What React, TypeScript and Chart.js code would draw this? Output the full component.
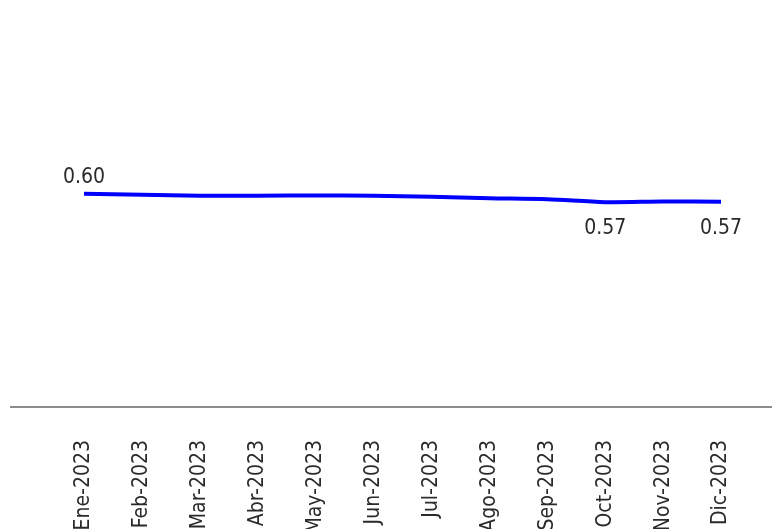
import React, { useEffect, useRef } from "react";
import { Chart, registerables } from "chart.js";

Chart.register(...registerables);

const categories = [
  "Ene-2023", "Feb-2023", "Mar-2023", "Abr-2023", "May-2023", "Jun-2023",
  "Jul-2023", "Ago-2023", "Sep-2023", "Oct-2023", "Nov-2023", "Dic-2023",
];
const values = [0.6, 0.597, 0.5935, 0.5935, 0.5945, 0.5935, 0.590, 0.5855, 0.582, 0.5725, 0.5745, 0.574];
const labeledPoints = [0, 9, 11];
const labelSides = ["top", "bottom", "bottom"];

const FONT = "'DejaVu Sans Condensed', 'Liberation Sans Narrow', sans-serif";

const baselinePlugin = {
  id: "baseline",
  afterDraw(chart: any) {
    const { ctx, chartArea, width } = chart;
    ctx.save();
    ctx.strokeStyle = "#666666";
    ctx.lineWidth = 1.5;
    ctx.beginPath();
    ctx.moveTo(10, chartArea.bottom);
    ctx.lineTo(width, chartArea.bottom);
    ctx.stroke();
    ctx.restore();
  },
};

const valueLabelPlugin = {
  id: "valueLabels",
  afterDatasetsDraw(chart: any) {
    const { ctx } = chart;
    const meta = chart.getDatasetMeta(0);
    ctx.save();
    ctx.font = `21px ${FONT}`;
    ctx.fillStyle = "#2a2a2a";
    ctx.textAlign = "center";
    ctx.textBaseline = "alphabetic";
    labeledPoints.forEach((idx, i) => {
      const el = meta.data[idx];
      if (!el) return;
      const v = values[idx];
      const side = labelSides[i];
      if (side === "top") {
        ctx.fillText(v.toFixed(2), el.x, el.y - 11);
      } else {
        ctx.fillText(v.toFixed(2), el.x, el.y + 32);
      }
    });
    ctx.restore();
  },
};

export default function App() {
  const canvasRef = useRef<HTMLCanvasElement | null>(null);

  useEffect(() => {
    if (!canvasRef.current) return;
    const chart = new Chart(canvasRef.current, {
      type: "line",
      data: {
        labels: categories,
        datasets: [
          {
            data: values,
            borderColor: "#0000ff",
            borderWidth: 4,
            pointRadius: 0,
            pointHoverRadius: 0,
            tension: 0.3,
            fill: false,
          },
        ],
      },
      options: {
        animation: false,
        responsive: true,
        maintainAspectRatio: false,
        layout: { padding: { top: 11, left: 55, right: 22, bottom: 0 } },
        plugins: {
          legend: { display: false },
          tooltip: { enabled: false },
        },
        scales: {
          x: {
            type: "category",
            offset: true,
            grid: { display: false, drawTicks: false },
            border: { display: false },
            ticks: {
              autoSkip: false,
              minRotation: 90,
              maxRotation: 90,
              padding: 33,
              color: "#2a2a2a",
              font: { family: FONT, size: 21 },
            },
            afterFit(scale: any) {
              scale.height = 122;
              scale.paddingLeft = 0;
              scale.paddingRight = 0;
            },
          },
          y: {
            display: false,
            min: -0.1,
            max: 1.2,
          },
        },
      },
      plugins: [baselinePlugin, valueLabelPlugin],
    });
    return () => chart.destroy();
  }, []);

  return (
    <div style={{ position: "fixed", left: 0, top: 0, width: 772, height: 529, background: "#fff" }}>
      <canvas ref={canvasRef} />
    </div>
  );
}
